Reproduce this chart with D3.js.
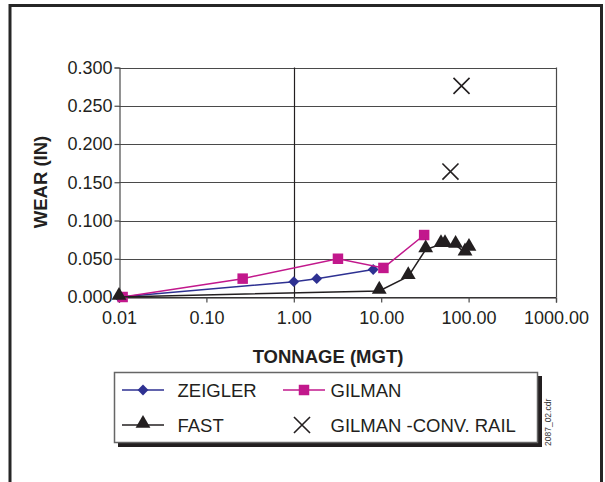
<!DOCTYPE html>
<html>
<head>
<meta charset="utf-8">
<script src="https://cdn.jsdelivr.net/npm/d3@7/dist/d3.min.js"></script>
<style>
  html, body { margin: 0; padding: 0; background: #fff; }
  svg { display: block; font-family: "Liberation Sans", Arial, Helvetica, sans-serif; }
</style>
</head>
<body>
<svg id="chart" width="605" height="482"></svg>
<script>
// Rail wear versus accumulated tonnage
const zeiglerX = [0.01, 1.0, 1.83, 8.1];
const zeiglerY = [0.000, 0.020, 0.024, 0.036];

const gilmanX = [0.011, 0.26, 3.2, 10.6, 31];
const gilmanY = [0.000, 0.024, 0.050, 0.038, 0.081];

const fastX = [0.01, 9.5, 20.4, 32.3, 48.3, 53.7, 71, 91, 101];
const fastY = [0.000, 0.008, 0.027, 0.062, 0.069, 0.069, 0.068, 0.058, 0.064];

const convRailX = [83, 62];
const convRailY = [0.276, 0.164];

const xTicks = [0.01, 0.1, 1, 10, 100, 1000];
const yTicks = [0, 0.05, 0.1, 0.15, 0.2, 0.25, 0.3];

const seriesNames = ["ZEIGLER", "GILMAN", "FAST", "GILMAN -CONV. RAIL"];

const BLUE = "#2e3192", MAGENTA = "#c2188c", INK = "#231f20", GRID = "#4a4a4a";

const svg = d3.select("#chart");

// outer frame (open at the bottom)
svg.append("path")
  .attr("d", "M10,482 V5.5 H601.5 V482")
  .attr("fill", "none").attr("stroke", "#262626").attr("stroke-width", 3);

const x = d3.scaleLog().domain([0.01, 1000]).range([119, 556]);
const y = d3.scaleLinear().domain([0, 0.3]).range([297, 67.5]);

// horizontal grid
svg.append("g").selectAll("line").data(yTicks).join("line")
  .attr("x1", x(0.01)).attr("x2", x(1000))
  .attr("y1", d => Math.round(y(d)) + 0.5).attr("y2", d => Math.round(y(d)) + 0.5)
  .attr("stroke", GRID).attr("stroke-width", 1.2);

// vertical reference at 1.00 and right border
svg.append("line")
  .attr("x1", Math.round(x(1)) + 0.5).attr("x2", Math.round(x(1)) + 0.5)
  .attr("y1", y(0.3)).attr("y2", y(0))
  .attr("stroke", INK).attr("stroke-width", 1.2);
svg.append("line")
  .attr("x1", Math.round(x(1000)) + 0.5).attr("x2", Math.round(x(1000)) + 0.5)
  .attr("y1", y(0.3)).attr("y2", y(0))
  .attr("stroke", GRID).attr("stroke-width", 1.2);

// y axis
const yAxis = svg.append("g")
  .attr("transform", `translate(${Math.round(x(0.01)) + 0.5},0)`)
  .call(d3.axisLeft(y).tickValues(yTicks).tickFormat(d3.format(".3f")).tickSize(5).tickPadding(2));
yAxis.select(".domain").attr("stroke", GRID).attr("stroke-width", 1.2);
yAxis.selectAll(".tick line").attr("stroke", GRID).attr("stroke-width", 1.2);
yAxis.selectAll(".tick text").attr("font-size", 18).attr("fill", INK)
  .attr("font-family", "'Liberation Sans', Arial, sans-serif");

// x axis
const xAxis = svg.append("g")
  .attr("transform", `translate(0,${Math.round(y(0)) + 0.5})`)
  .call(d3.axisBottom(x).tickValues(xTicks).tickFormat(d3.format(".2f")).tickSize(5).tickPadding(9));
xAxis.select(".domain").attr("stroke", INK).attr("stroke-width", 1.2);
xAxis.selectAll(".tick line").attr("stroke", GRID).attr("stroke-width", 1.2);
xAxis.selectAll(".tick text").attr("font-size", 18).attr("fill", INK)
  .attr("font-family", "'Liberation Sans', Arial, sans-serif");

// axis titles
svg.append("text")
  .attr("x", 328).attr("y", 363).attr("text-anchor", "middle")
  .attr("font-size", 18.5).attr("font-weight", "bold").attr("fill", INK)
  .text("TONNAGE (MGT)");
svg.append("text")
  .attr("transform", "translate(47,182) rotate(-90)")
  .attr("text-anchor", "middle")
  .attr("font-size", 18.5).attr("font-weight", "bold").attr("fill", INK)
  .text("WEAR (IN)");

// marker shapes
const sym = {
  diamond: d3.symbol().type(d3.symbolDiamond2).size(75),
  square: d3.symbol().type(d3.symbolSquare).size(110),
  triangle: d3.symbol().type(d3.symbolTriangle).size(95),
  cross: d3.symbol().type(d3.symbolX).size(170)
};

const line = d3.line().x(d => x(d[0])).y(d => y(d[1]));
const zip = (a, b) => a.map((v, i) => [v, b[i]]);

const series = [
  { pts: zip(zeiglerX, zeiglerY), color: BLUE, shape: "diamond" },
  { pts: zip(gilmanX, gilmanY), color: MAGENTA, shape: "square" },
  { pts: zip(fastX, fastY), color: INK, shape: "triangle" }
];

series.forEach(s => {
  svg.append("path").datum(s.pts).attr("d", line)
    .attr("fill", "none").attr("stroke", s.color).attr("stroke-width", 1.5);
  svg.append("g").selectAll("path").data(s.pts).join("path")
    .attr("transform", d => `translate(${x(d[0])},${y(d[1]) - (s.shape === "triangle" ? 1.5 : 0)})`)
    .attr("d", sym[s.shape]()).attr("fill", s.color);
});

// conventional rail points
svg.append("g").selectAll("path").data(zip(convRailX, convRailY)).join("path")
  .attr("transform", d => `translate(${x(d[0])},${y(d[1])})`)
  .attr("d", sym.cross()).attr("fill", "none")
  .attr("stroke", INK).attr("stroke-width", 1.6);

// legend
const lg = svg.append("g");
lg.append("rect").attr("x", 118).attr("y", 376).attr("width", 424).attr("height", 71).attr("fill", INK);
lg.append("rect").attr("x", 114.5).attr("y", 372.5).attr("width", 423).attr("height", 70)
  .attr("fill", "#fff").attr("stroke", "#666").attr("stroke-width", 1.5);

const legendItems = [
  { name: seriesNames[0], color: BLUE, shape: "diamond", lx: 122, tx: 177.5, ly: 390, line: true },
  { name: seriesNames[1], color: MAGENTA, shape: "square", lx: 283, tx: 330.5, ly: 390, line: true },
  { name: seriesNames[2], color: INK, shape: "triangle", lx: 122, tx: 177.5, ly: 425, line: true },
  { name: seriesNames[3], color: INK, shape: "cross", lx: 281, tx: 330.5, ly: 425, line: false }
];
legendItems.forEach(it => {
  if (it.line) {
    lg.append("line").attr("x1", it.lx).attr("x2", it.lx + 42)
      .attr("y1", it.ly).attr("y2", it.ly)
      .attr("stroke", it.color).attr("stroke-width", 1.5);
  }
  const m = lg.append("path")
    .attr("transform", `translate(${it.lx + 21},${it.ly - (it.shape === "triangle" ? 1.5 : 0)})`)
    .attr("d", sym[it.shape]());
  if (it.shape === "cross") m.attr("fill", "none").attr("stroke", it.color).attr("stroke-width", 1.6);
  else m.attr("fill", it.color);
  lg.append("text").attr("x", it.tx).attr("y", it.ly + 6.5)
    .attr("font-size", 18.5).attr("fill", INK).text(it.name);
});

// drawing file tag
svg.append("text")
  .attr("transform", "translate(551,446) rotate(-90)")
  .attr("font-size", 8.5).attr("fill", "#333")
  .text("2087_02.cdr");
</script>
</body>
</html>
